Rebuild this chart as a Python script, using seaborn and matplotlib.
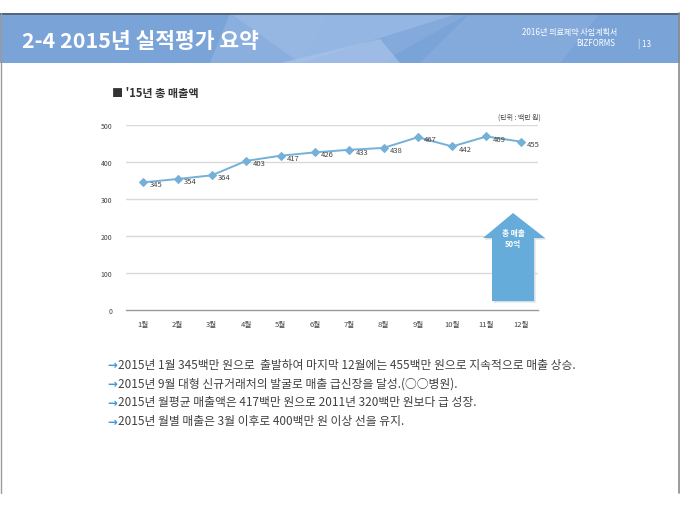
import matplotlib
matplotlib.use("Agg")
import matplotlib.pyplot as plt
from matplotlib.patches import Polygon, Rectangle
import numpy as np
import pandas as pd
import seaborn as sns

months = ["1월", "2월", "3월", "4월", "5월", "6월", "7월", "8월", "9월", "10월", "11월", "12월"]
sales = [345, 354, 364, 403, 417, 426, 433, 438, 467, 442, 469, 455]
y_ticks = [0, 100, 200, 300, 400, 500]

title = "2-4 2015년 실적평가 요약"
doc_name = "2016년 의료제약 사업계획서"
brand = "BIZFORMS"
page = "| 13"
subtitle = "■ '15년 총 매출액"
unit = "(단위 : 백만 원)"
arrow_text = "총 매출\n50억"
bullets = [
    "2015년 1월 345백만 원으로  출발하여 마지막 12월에는 455백만 원으로 지속적으로 매출 상승.",
    "2015년 9월 대형 신규거래처의 발굴로 매출 급신장을 달성.(○○병원).",
    "2015년 월평균 매출액은 417백만 원으로 2011년 320백만 원보다 급 성장.",
    "2015년 월별 매출은 3월 이후로 400백만 원 이상 선을 유지.",
]

sns.set_theme(style="white")
FAM = ["Noto Sans CJK KR", "DejaVu Sans"]
plt.rcParams["font.family"] = FAM

W, H = 680, 510
fig = plt.figure(figsize=(6.8, 5.1), dpi=100)
fig.patch.set_facecolor("white")

def fx(px):
    return px / W

def fy(py):
    return 1 - py / H

# ---- header band ----
bg = fig.add_axes([0, 0, 1, 1], zorder=-5)
bg.set_xlim(0, W)
bg.set_ylim(H, 0)
bg.axis("off")
bg.add_patch(Rectangle((0, 14), W, 50, facecolor="#7aa3d8", edgecolor="none"))
bg.add_patch(Polygon([(230, 14), (330, 14), (300, 64), (210, 64)], closed=True,
                     facecolor="#8fb2e0", edgecolor="none", alpha=0.8))
bg.add_patch(Polygon([(330, 14), (470, 14), (380, 64), (300, 64)], closed=True,
                     facecolor="#86aadc", edgecolor="none", alpha=0.9))
bg.add_patch(Polygon([(230, 14), (460, 14), (300, 64)], closed=True,
                     facecolor="#9cbce5", edgecolor="none", alpha=0.7))
bg.add_patch(Polygon([(280, 64), (380, 40), (400, 64)], closed=True,
                     facecolor="#a8c4ea", edgecolor="none", alpha=0.7))
bg.add_patch(Polygon([(470, 14), (600, 14), (560, 64), (420, 64)], closed=True,
                     facecolor="#8cafe0", edgecolor="none", alpha=0.6))
bg.plot([0, W], [14.5, 14.5], color="#4a5a70", lw=1.2)
bg.plot([0.5, 0.5], [14, 494], color="#9a9a9a", lw=1)
bg.plot([679, 679], [14, 494], color="#8a8a8a", lw=1.2)

fig.text(fx(22), fy(42), title, color="white", fontsize=15.5, fontweight="bold",
         va="center", ha="left", family=FAM)
fig.text(fx(617), fy(33), doc_name, color="white", fontsize=5.8, va="center", ha="right")
fig.text(fx(615), fy(44), brand, color="white", fontsize=5.8, va="center", ha="right")
fig.text(fx(638), fy(44), page, color="white", fontsize=5.8, va="center", ha="left")

fig.text(fx(112), fy(94), subtitle, color="#333333", fontsize=8, fontweight="bold",
         va="center", ha="left")
fig.text(fx(541), fy(118), unit, color="#444444", fontsize=5, va="center", ha="right")

# ---- chart ----
ax = fig.add_axes([fx(126), fy(311), fx(412), (311 - 126) / H])
df = pd.DataFrame({"idx": np.arange(len(months)), "sales": sales})
line_color = "#74b0d8"
sns.lineplot(data=df, x="idx", y="sales", ax=ax, color=line_color, linewidth=1.4,
             marker="D", markersize=4.5, markeredgecolor=line_color, zorder=3)
for i, v in zip(df["idx"], df["sales"]):
    ax.annotate(str(v), (i, v), xytext=(4.5, -1.5), textcoords="offset points",
                ha="left", va="center", fontsize=5.5, color="#444444")

ax.set_xlim(-0.5, len(months) - 0.5)
ax.set_ylim(0, 500)
ax.set_yticks(y_ticks)
ax.set_yticklabels([str(t) for t in y_ticks], fontsize=5, color="#444444")
ax.set_xticks(np.arange(len(months)))
ax.set_xticklabels(months, fontsize=5.5, color="#444444")
ax.set_xticks(np.arange(-0.5, len(months)), minor=True)
ax.tick_params(axis="x", which="major", length=0, pad=7)
ax.tick_params(axis="x", which="minor", length=3, width=0.8, color="#999999", direction="out")
ax.tick_params(axis="y", length=0, pad=10)
ax.set_xlabel("")
ax.set_ylabel("")
for t in y_ticks[1:]:
    ax.axhline(t, color="#d9d9d9", lw=1, zorder=0)
for s in ["top", "right", "left"]:
    ax.spines[s].set_visible(False)
ax.spines["bottom"].set_color("#9a9a9a")
ax.spines["bottom"].set_linewidth(1)
ax.set_facecolor("none")

# ---- big arrow ----
arrow_pts = [(492, 302), (492, 239), (483, 239), (513, 214), (545, 239),
             (534, 239), (534, 302)]
bg2 = fig.add_axes([0, 0, 1, 1], zorder=5)
bg2.set_xlim(0, W)
bg2.set_ylim(H, 0)
bg2.axis("off")
bg2.add_patch(Polygon([(x + 1.5, y + 1.5) for x, y in arrow_pts], closed=True,
                      facecolor="#cfd6de", edgecolor="none", alpha=0.8))
bg2.add_patch(Polygon(arrow_pts, closed=True, facecolor="#66acdb", edgecolor="none"))
bg2.text(513, 239, arrow_text, color="white", fontsize=5.5, fontweight="bold",
         ha="center", va="center", linespacing=1.2)

# ---- bullets ----
for k, b in enumerate(bullets):
    yy = 365 + k * 19
    fig.text(fx(107), fy(yy), "→", color="#3e9ad6", fontsize=8.5, fontweight="bold",
             va="center", ha="left", family=["DejaVu Sans"])
    fig.text(fx(118), fy(yy), b, color="#404040", fontsize=8.5, va="center", ha="left")

fig.savefig("out.png", dpi=100, facecolor="white")
